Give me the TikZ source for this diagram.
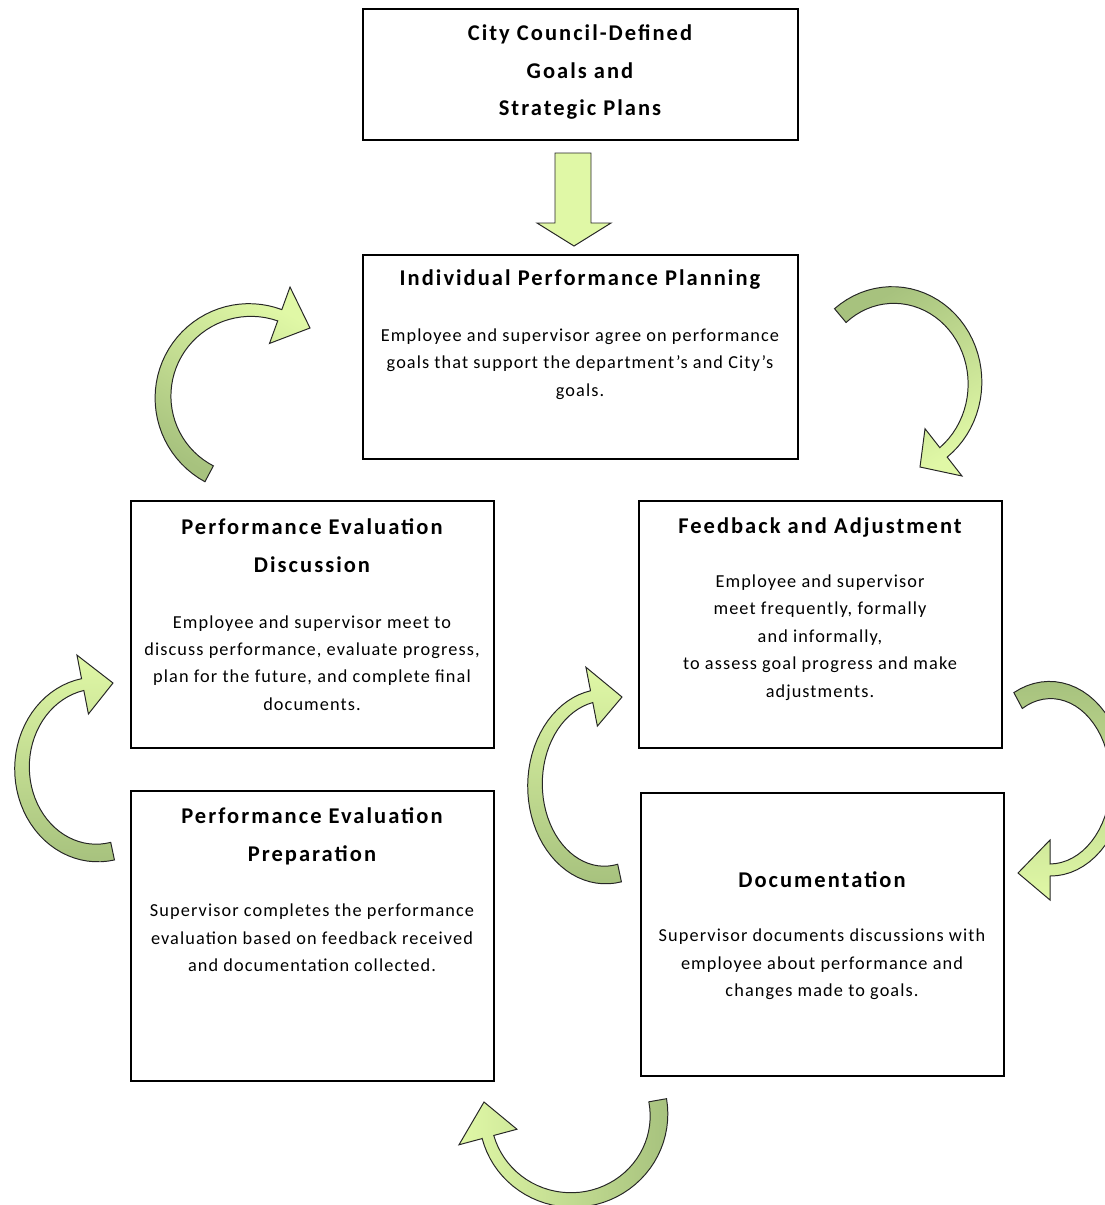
\documentclass[tikz,border=0pt]{standalone}
\usepackage{fontspec}
\setmainfont{Carlito}
\newfontfamily\headfont{Carlito}[LetterSpace=9]
\newfontfamily\bodyfont{Carlito}[LetterSpace=6]
\definecolor{leaf}{HTML}{E0F8A6}
\definecolor{moss}{HTML}{A7C27E}
\tikzset{
    box/.style={draw, line width=2pt, inner sep=0pt},
    head/.style={align=center, font=\headfont\bfseries\fontsize{16}{27}\selectfont},
    note/.style={align=center, font=\bodyfont\fontsize{13}{19.5}\selectfont},
    ribbon/.style={draw=black!85, line width=0.7pt, top color=leaf, bottom color=moss}
}
% center x, center y, x radius, y radius, tail angle, head angle, tip x, tip y, shading angle
\newcommand{\bentarrow}[9]{%
  \begin{scope}[shift={(#1,#2)}]
    \pgfmathsetmacro\rxh{#3+30}\pgfmathsetmacro\ryh{#4+30}
    \pgfmathsetmacro\rxl{#3-30}\pgfmathsetmacro\ryl{#4-30}
    \shadedraw[ribbon, shading angle=#9]
      plot[domain=#5:#6, samples=40]
        ({(#3+9-3*(\x-(#5))/((#6)-(#5)))*cos(\x)},{(#4+9-3*(\x-(#5))/((#6)-(#5)))*sin(\x)})
      -- ({(#3+6)*cos(#6)},{(#4+6)*sin(#6)})
      -- ({\rxh*cos(#6)},{\ryh*sin(#6)}) -- ({#7-#1},{#8-#2}) -- ({\rxl*cos(#6)},{\ryl*sin(#6)})
      -- ({(#3-6)*cos(#6)},{(#4-6)*sin(#6)})
      -- plot[domain=#6:#5, samples=40]
        ({(#3-9+3*(\x-(#5))/((#6)-(#5)))*cos(\x)},{(#4-9+3*(\x-(#5))/((#6)-(#5)))*sin(\x)})
      -- cycle;
  \end{scope}}

\begin{document}
\begin{tikzpicture}[x=0.025cm, y=-0.025cm]
\useasboundingbox (0,0) rectangle (1105,1205);
\clip (0,0) rectangle (1105,1205);

\node[box, minimum width=10.875cm, minimum height=3.275cm] (goals) at (580.5,74.5) {};
\node[head] (goals-t) at (580,72) {City Council-Defined\\Goals and\\Strategic Plans};

\node[box, minimum width=10.875cm, minimum height=5.1cm] (plan) at (580.5,357) {};
\node[head] (plan-t) at (580,280) {Individual Performance Planning};
\node[note] (plan-b) at (580,364) {Employee and supervisor agree on performance\\goals that support the department’s and City’s\\goals.};

\node[box, minimum width=9.075cm, minimum height=6.175cm] (discuss) at (312.5,624.5) {};
\node[head] (discuss-t) at (312,546) {Performance Evaluation\\Discussion};
\node[note] (discuss-b) at (312,663) {Employee and supervisor meet to\\discuss performance, evaluate progress,\\plan for the future, and complete final\\documents.};

\node[box, minimum width=9.075cm, minimum height=6.175cm] (feedback) at (820.5,624.5) {};
\node[head] (feedback-t) at (820,527) {Feedback and Adjustment};
\node[note] (feedback-b) at (820,637.5) {Employee and supervisor\\meet frequently, formally\\and informally,\\to assess goal progress and make\\adjustments.};

\node[box, minimum width=9.075cm, minimum height=7.25cm] (prep) at (312.5,936) {};
\node[head] (prep-t) at (312,836) {Performance Evaluation\\Preparation};
\node[note] (prep-b) at (312,938) {Supervisor completes the performance\\evaluation based on feedback received\\and documentation collected.};

\node[box, minimum width=9.075cm, minimum height=7.075cm] (docs) at (822.5,934.5) {};
\node[head] (docs-t) at (822,880) {Documentation};
\node[note] (docs-b) at (822,964.5) {Supervisor documents discussions with\\employee about performance and\\changes made to goals.};

\filldraw[fill=leaf, draw=black!85, line width=0.7pt] (555,153) -- (591,153) -- (591,223) -- (611,223)
  -- (574,246) -- (537,223) -- (555,223) -- cycle;

\bentarrow{250}{397}{87}{87}{118}{290}{310}{328}{-30}
\bentarrow{893}{383}{82}{88}{230}{412}{920}{467}{-150}
\bentarrow{97}{768}{75}{85}{78}{259}{113}{683}{0}
\bentarrow{1050}{780}{68}{90}{242}{450}{1018}{873}{180}
\bentarrow{605}{785}{70}{90}{78}{259}{622}{697}{0}
\bentarrow{572}{1115}{87}{85}{-10}{165}{484}{1102}{90}

\end{tikzpicture}
\end{document}
